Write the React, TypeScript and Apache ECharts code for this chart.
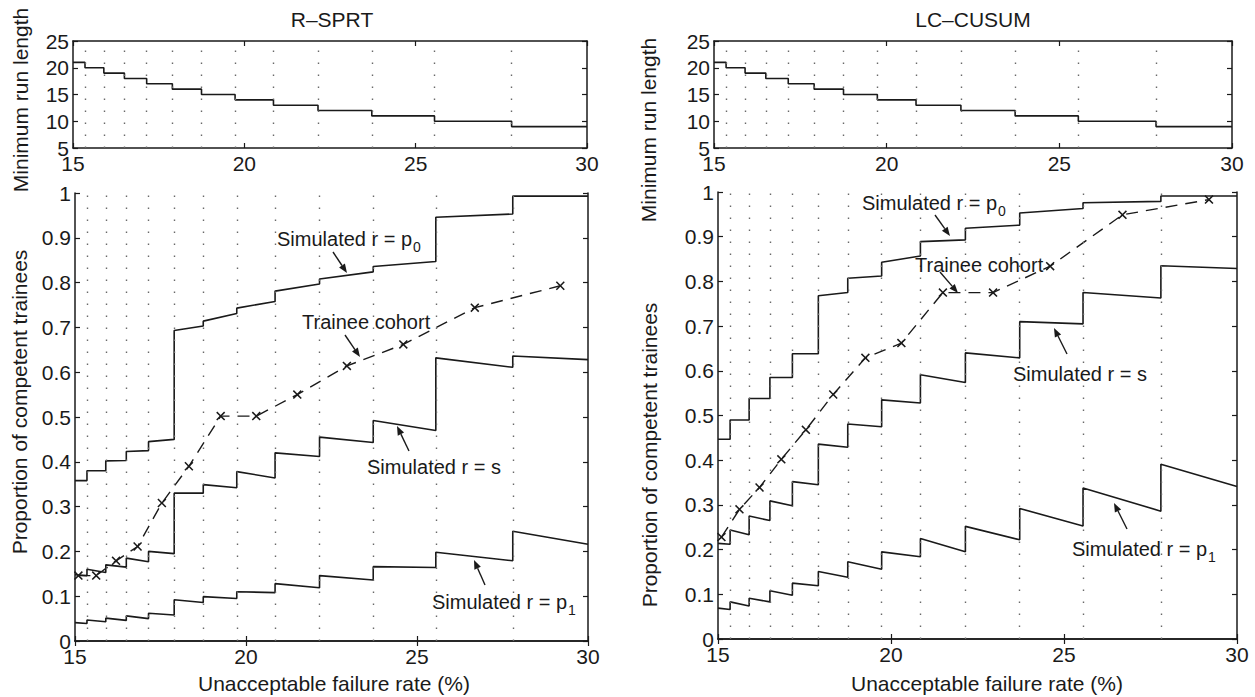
import React, { useEffect, useRef } from 'react';
import * as echarts from 'echarts';

// ---- data ----
const xMin = 15;
const xMax = 30;
// failure rates (%) at which the minimum run length changes
const breaks = [15.35, 15.9, 16.5, 17.15, 17.9, 18.75, 19.73, 20.85, 22.15, 23.72, 25.55, 27.8];
const runLenRSPRT = [21, 20, 19, 18, 17, 16, 15, 14, 13, 12, 11, 10, 9];
const runLenLCCUSUM = [21, 20, 19, 18, 17, 16, 15, 14, 13, 12, 11, 10, 9];

// R-SPRT: value at start / end of each segment between breaks
const p0StartRSPRT = [0.358, 0.380, 0.402, 0.423, 0.445, 0.693, 0.714, 0.743, 0.781, 0.808, 0.836, 0.946, 0.993];
const p0EndRSPRT = [0.358, 0.380, 0.403, 0.425, 0.450, 0.703, 0.731, 0.758, 0.797, 0.824, 0.847, 0.953, 0.993];
const sStartRSPRT = [0.148, 0.160, 0.170, 0.185, 0.200, 0.330, 0.349, 0.378, 0.420, 0.455, 0.492, 0.632, 0.636];
const sEndRSPRT = [0.146, 0.153, 0.165, 0.177, 0.195, 0.330, 0.342, 0.364, 0.412, 0.443, 0.470, 0.611, 0.628];
const p1StartRSPRT = [0.041, 0.047, 0.051, 0.056, 0.062, 0.092, 0.099, 0.110, 0.128, 0.146, 0.166, 0.198, 0.245];
const p1EndRSPRT = [0.039, 0.043, 0.046, 0.050, 0.058, 0.086, 0.095, 0.108, 0.119, 0.136, 0.164, 0.179, 0.216];

// LC-CUSUM
const p0StartLCCUSUM = [0.447, 0.490, 0.538, 0.585, 0.638, 0.768, 0.807, 0.843, 0.889, 0.919, 0.953, 0.976, 0.991];
const p0EndLCCUSUM = [0.447, 0.490, 0.538, 0.585, 0.638, 0.775, 0.812, 0.857, 0.893, 0.926, 0.963, 0.979, 0.991];
const sStartLCCUSUM = [0.214, 0.244, 0.275, 0.309, 0.352, 0.436, 0.481, 0.535, 0.591, 0.640, 0.710, 0.775, 0.835];
const sEndLCCUSUM = [0.212, 0.233, 0.265, 0.298, 0.345, 0.429, 0.475, 0.528, 0.574, 0.629, 0.705, 0.763, 0.829];
const p1StartLCCUSUM = [0.069, 0.083, 0.091, 0.108, 0.125, 0.151, 0.173, 0.195, 0.225, 0.252, 0.292, 0.338, 0.391];
const p1EndLCCUSUM = [0.066, 0.074, 0.083, 0.098, 0.119, 0.138, 0.156, 0.184, 0.195, 0.222, 0.253, 0.286, 0.341];

// trainee cohort
const cohortRate = [15.1, 15.62, 16.2, 16.83, 17.54, 18.33, 19.26, 20.3, 21.5, 22.95, 24.6, 26.69, 29.19];
const cohortRSPRT = [0.146, 0.146, 0.179, 0.211, 0.308, 0.39, 0.502, 0.502, 0.55, 0.614, 0.662, 0.744, 0.793];
const cohortLCCUSUM = [0.228, 0.29, 0.339, 0.402, 0.468, 0.547, 0.629, 0.662, 0.775, 0.775, 0.834, 0.949, 0.983];

// ---- helpers ----
const FONT = 'Liberation Sans';
const INK = '#1a1a1a';
const FS = 21;

function segments(starts: number[], ends: number[]) {
  const edges = [xMin, ...breaks, xMax];
  const pts: number[][] = [];
  for (let i = 0; i < starts.length; i++) {
    pts.push([edges[i], starts[i]]);
    pts.push([edges[i + 1], ends[i]]);
  }
  return pts;
}

function steps(levels: number[]) {
  const edges = [xMin, ...breaks];
  const pts = levels.map((v, i) => [edges[i], v]);
  pts.push([xMax, levels[levels.length - 1]]);
  return pts;
}

function measure(text: string, size: number) {
  const c = document.createElement('canvas').getContext('2d')!;
  c.font = `${size}px "${FONT}"`;
  return c.measureText(text).width;
}

const grids = [
  { left: 73, top: 41, width: 514, height: 107 },
  { left: 75, top: 193, width: 513, height: 448 },
  { left: 714, top: 41, width: 518, height: 107 },
  { left: 718, top: 192, width: 519, height: 447 },
];

const axisLine = { show: true, lineStyle: { color: INK, width: 1.5 } };
const axisTick = { show: true, inside: true, length: 5, lineStyle: { color: INK, width: 1.2 } };

function xAxes(gi: number) {
  const base = {
    type: 'value', gridIndex: gi, min: xMin, max: xMax, interval: 5,
    axisLine, axisTick, splitLine: { show: false },
  };
  return [
    { ...base, position: 'bottom', axisLabel: { show: true, fontSize: FS, fontFamily: FONT, color: INK, margin: 5 } },
    { ...base, position: 'top', axisLabel: { show: false } },
  ];
}
function yAxes(gi: number, top: boolean) {
  const base = {
    type: 'value', gridIndex: gi,
    min: top ? 5 : 0, max: top ? 25 : 1, interval: top ? 5 : 0.1,
    axisLine, axisTick, splitLine: { show: false },
  };
  return [
    { ...base, position: 'left', axisLabel: { show: true, fontSize: FS, fontFamily: FONT, color: INK, margin: 4 } },
    { ...base, position: 'right', axisLabel: { show: false } },
  ];
}

const dots = {
  silent: true,
  symbol: ['none', 'none'],
  label: { show: false },
  lineStyle: { type: [1.5, 10.5], color: '#6a6a6a', width: 1.4 },
  data: breaks.map((b) => ({ xAxis: b })),
};

function curve(gi: number, data: number[][], withDots = false) {
  return {
    type: 'line', xAxisIndex: gi * 2, yAxisIndex: gi * 2, data,
    showSymbol: false, lineStyle: { color: INK, width: 1.6 }, z: 3,
    ...(withDots ? { markLine: dots } : {}),
  };
}

const XMARK = 'path://M0,1.2L1.2,0L5,3.8L8.8,0L10,1.2L6.2,5L10,8.8L8.8,10L5,6.2L1.2,10L0,8.8L3.8,5Z';
function cohort(gi: number, ys: number[]) {
  return {
    type: 'line', xAxisIndex: gi * 2, yAxisIndex: gi * 2,
    data: cohortRate.map((x, i) => [x, ys[i]]),
    symbol: XMARK, symbolSize: 9, showSymbol: true,
    itemStyle: { color: INK },
    lineStyle: { color: INK, width: 1.4, type: [12, 8] }, z: 4,
  };
}

// ---- annotations (pixel layout) ----
const notes = [
  { text: 'Simulated r = p', sub: '0', x: 277, y: 239, arrow: [333, 252, 347, 273] },
  { text: 'Trainee cohort', sub: '', x: 302, y: 322, arrow: [345, 335, 360, 357] },
  { text: 'Simulated r = s', sub: '', x: 367, y: 467, arrow: [409, 451, 397, 426] },
  { text: 'Simulated r = p', sub: '1', x: 432, y: 602, arrow: [485, 585, 474, 560] },
  { text: 'Simulated r = p', sub: '0', x: 862, y: 203, arrow: [935, 215, 950, 236] },
  { text: 'Trainee cohort', sub: '', x: 915, y: 265, arrow: [940, 272, 958, 293] },
  { text: 'Simulated r = s', sub: '', x: 1013, y: 374, arrow: [1067, 354, 1054, 328] },
  { text: 'Simulated r = p', sub: '1', x: 1072, y: 549, arrow: [1127, 529, 1114, 503] },
];

function txt(text: string, x: number, y: number, size = FS, rot = 0, align = 'center') {
  return {
    type: 'text', x, y, rotation: rot, z: 10,
    style: {
      text, fontSize: size, fontFamily: FONT, fill: INK,
      align, verticalAlign: 'middle', textAlign: align, textVerticalAlign: 'middle',
    },
  };
}

function arrow(x1: number, y1: number, x2: number, y2: number) {
  const dx = x2 - x1, dy = y2 - y1;
  const L = Math.hypot(dx, dy);
  const ux = dx / L, uy = dy / L;
  const hl = 9, hw = 3.5;
  const bx = x2 - ux * hl, by = y2 - uy * hl;
  return [
    { type: 'line', z: 10, shape: { x1, y1, x2: bx, y2: by }, style: { stroke: INK, lineWidth: 1.4 } },
    {
      type: 'polygon', z: 10,
      shape: { points: [[x2, y2], [bx - uy * hw, by + ux * hw], [bx + uy * hw, by - ux * hw]] },
      style: { fill: INK },
    },
  ];
}

function buildGraphics() {
  const els: any[] = [];
  els.push(txt('R–SPRT', 332, 19));
  els.push(txt('LC–CUSUM', 973, 19));
  els.push(txt('Unacceptable failure rate (%)', 334, 683));
  els.push(txt('Unacceptable failure rate (%)', 987, 683));
  els.push(txt('Minimum run length', 20, 100, FS, Math.PI / 2));
  els.push(txt('Proportion of competent trainees', 19, 402, FS, Math.PI / 2));
  els.push(txt('Minimum run length', 648, 130, FS, Math.PI / 2));
  els.push(txt('Proportion of competent trainees', 649, 455, FS, Math.PI / 2));
  for (const n of notes) {
    els.push(txt(n.text, n.x, n.y, 20, 0, 'left'));
    if (n.sub) {
      const w = measure(n.text, 20);
      els.push(txt(n.sub, n.x + w + 1, n.y + 8, 14, 0, 'left'));
    }
    els.push(...arrow(n.arrow[0], n.arrow[1], n.arrow[2], n.arrow[3]));
  }
  return els;
}

export default function App() {
  const ref = useRef<HTMLDivElement>(null);
  useEffect(() => {
    document.body.style.margin = '0';
    const chart = echarts.init(ref.current!, undefined, { renderer: 'svg' });
    const option: any = {
      animation: false,
      backgroundColor: '#ffffff',
      textStyle: { fontFamily: FONT },
      grid: grids,
      xAxis: [...xAxes(0), ...xAxes(1), ...xAxes(2), ...xAxes(3)],
      yAxis: [...yAxes(0, true), ...yAxes(1, false), ...yAxes(2, true), ...yAxes(3, false)],
      series: [
        { ...curve(0, steps(runLenRSPRT), true), step: 'end' },
        curve(1, segments(p0StartRSPRT, p0EndRSPRT), true),
        curve(1, segments(sStartRSPRT, sEndRSPRT)),
        curve(1, segments(p1StartRSPRT, p1EndRSPRT)),
        cohort(1, cohortRSPRT),
        { ...curve(2, steps(runLenLCCUSUM), true), step: 'end' },
        curve(3, segments(p0StartLCCUSUM, p0EndLCCUSUM), true),
        curve(3, segments(sStartLCCUSUM, sEndLCCUSUM)),
        curve(3, segments(p1StartLCCUSUM, p1EndLCCUSUM)),
        cohort(3, cohortLCCUSUM),
      ],
      graphic: buildGraphics(),
    };
    chart.setOption(option);
    return () => chart.dispose();
  }, []);
  return <div ref={ref} style={{ width: 1255, height: 697 }} />;
}
